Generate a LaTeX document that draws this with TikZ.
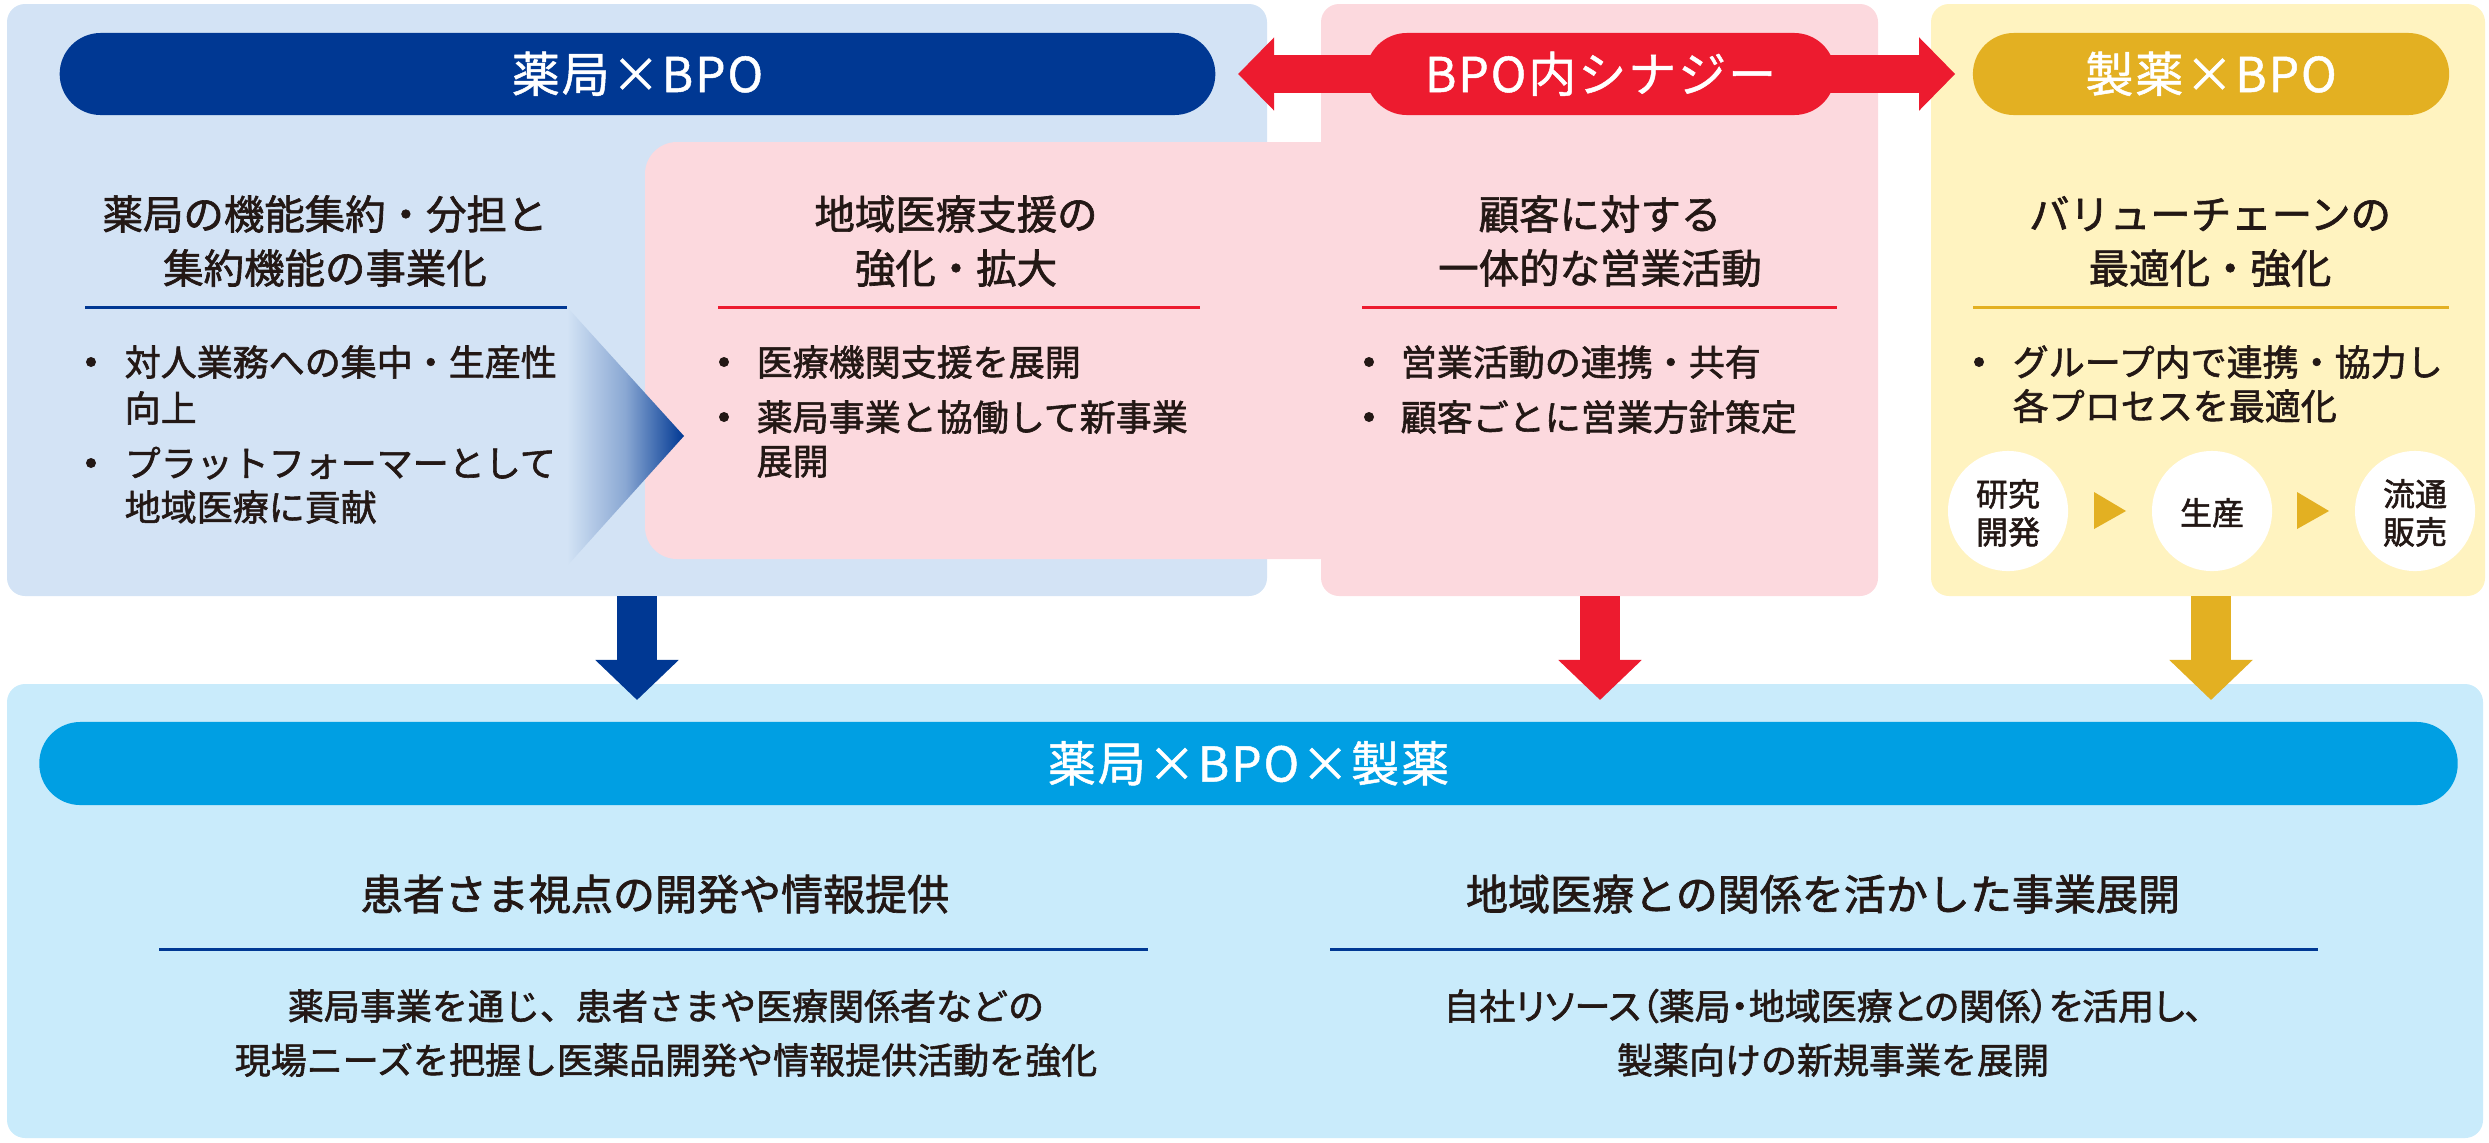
\documentclass[tikz,border=0pt]{standalone}
\usepackage{fontspec}
\setmainfont{Noto Sans CJK JP}[FakeBold=1.6]
\newfontfamily\pillfont{Noto Sans CJK JP}[LetterSpace=4, FakeBold=1.0]
\newfontfamily\paltfont{Noto Sans CJK JP}[RawFeature=+palt, FakeBold=1.6]
\usetikzlibrary{arrows.meta}
\definecolor{bluep}{HTML}{D3E3F5}
\definecolor{pinkp}{HTML}{FCD9DE}
\definecolor{yellowp}{HTML}{FFF3C0}
\definecolor{skyp}{HTML}{C9EBFB}
\definecolor{navyc}{HTML}{003893}
\definecolor{redc}{HTML}{ED1B2F}
\definecolor{goldc}{HTML}{E3B022}
\definecolor{cyanc}{HTML}{009FE3}
\definecolor{ink}{HTML}{231815}
\begin{document}
\begin{tikzpicture}[x=0.01cm,y=-0.01cm,
  panel/.style={rounded corners=0.18cm},
  pill/.style={rounded corners=0.41cm, minimum height=0.82cm, inner sep=0pt, text=white,
    font=\pillfont\fontsize{13.66}{15}\selectfont, text height=0.42cm, text depth=0.06cm},
  hd/.style={inner sep=0pt, text=ink, font=\fontsize{11.5}{13}\selectfont,
    text height=0.355cm, text depth=0.048cm},
  bd/.style={inner sep=0pt, text=ink, anchor=west, font=\fontsize{10.24}{12}\selectfont,
    text height=0.317cm, text depth=0.043cm},
  bhd/.style={inner sep=0pt, text=ink, font=\fontsize{11.95}{13}\selectfont,
    text height=0.37cm, text depth=0.05cm},
  bbd/.style={inner sep=0pt, text=ink, font=\fontsize{10.24}{12}\selectfont,
    text height=0.317cm, text depth=0.043cm},
  ct/.style={inner sep=0pt, text=ink, font=\fontsize{9.1}{10}\selectfont,
    text height=0.28cm, text depth=0.04cm},
  dot/.style={circle, fill=ink, inner sep=0pt, minimum size=0.1cm},
  uline/.style={line width=0.03cm},
  downarrow/.style={line width=0.4cm, -{Triangle[length=0.4cm,width=0.81cm]}},
  bubble/.style={circle, fill=white, minimum size=1.2cm, inner sep=0pt}
]
\useasboundingbox (0,0) rectangle (2489,1142);
% panels
\fill[bluep, panel] (7,4) rectangle (1267,596);
\fill[pinkp, panel] (1321,4) rectangle (1878,596);
\fill[pinkp, rounded corners=0.32cm] (1400,142) -- (645,142) -- (645,559) -- (1400,559) -- cycle;
\fill[yellowp, panel] (1931,4) rectangle (2485,596);
\fill[skyp, panel] (7,684) rectangle (2483,1138);
% chevron
\shade[left color=bluep, right color=navyc, middle color=navyc!35!bluep] (567,307) -- (684,436) -- (567,566) -- cycle;
% pills
\node[pill, fill=navyc, minimum width=11.55cm] (pA) at (637.5,74) {薬局×BPO};
\node[pill, fill=goldc, minimum width=4.76cm] (pC) at (2211,74) {製薬×BPO};
\draw[redc, line width=0.37cm, {Triangle[length=0.36cm,width=0.71cm]}-{Triangle[length=0.36cm,width=0.71cm]}]
  ([xshift=0.22cm]pA.east) -- ([xshift=-0.17cm]pC.west);
\node[pill, fill=redc, minimum width=4.69cm] (pB) at (1600.5,74) {BPO内シナジー};
\node[pill, fill=cyanc, minimum width=24.17cm, minimum height=0.83cm] (pD) at (1248.5,763.5) {薬局×BPO×製薬};
% down arrows
\coordinate (d1s) at (637,596); \coordinate (d1e) at (637,700);
\coordinate (d2s) at (1600,596); \coordinate (d2e) at (1600,700);
\coordinate (d3s) at (2211,596); \coordinate (d3e) at (2211,700);
\draw[downarrow, navyc] (d1s) -- (d1e);
\draw[downarrow, redc] (d2s) -- (d2e);
\draw[downarrow, goldc] (d3s) -- (d3e);
% column 1
\node[hd] (h1a) at (325,214) {薬局の機能集約・分担と};
\node[hd] (h1b) at (325,268) {集約機能の事業化};
\draw[uline, navyc] (85,307) -- (567,307);
\node[dot] (o1a) at (91,362) {};
\node[bd] (b1a) at (124,362) {対人業務への集中・生産性};
\node[bd] (b1b) at (124,408) {向上};
\node[dot] (o1c) at (91,463) {};
\node[bd] (b1c) at (124,463) {プラットフォーマーとして};
\node[bd] (b1d) at (124,507) {地域医療に貢献};
% column 2
\node[hd] (h2a) at (956,214) {地域医療支援の};
\node[hd] (h2b) at (956,268) {強化・拡大};
\draw[uline, redc] (718,307) -- (1200,307);
\node[dot] (o2a) at (724,362) {};
\node[bd] (b2a) at (756,362) {医療機関支援を展開};
\node[dot] (o2b) at (724,417) {};
\node[bd] (b2b) at (756,417) {薬局事業と協働して新事業};
\node[bd] (b2c) at (756,461) {展開};
% column 3
\node[hd] (h3a) at (1600,214) {顧客に対する};
\node[hd] (h3b) at (1600,268) {一体的な営業活動};
\draw[uline, redc] (1362,307) -- (1837,307);
\node[dot] (o3a) at (1369,362) {};
\node[bd] (b3a) at (1400,362) {営業活動の連携・共有};
\node[dot] (o3b) at (1369,417) {};
\node[bd] (b3b) at (1400,417) {顧客ごとに営業方針策定};
% column 4
\node[hd] (h4a) at (2210,214) {バリューチェーンの};
\node[hd] (h4b) at (2210,268) {最適化・強化};
\draw[uline, goldc] (1973,307) -- (2449,307);
\node[dot] (o4a) at (1979,362) {};
\node[bd] (b4a) at (2012,362) {グループ内で連携・協力し};
\node[bd] (b4b) at (2012,406) {各プロセスを最適化};
\node[bubble] (c1) at (2008,511) {};
\node[bubble] (c2) at (2212,511) {};
\node[bubble] (c3) at (2415,511) {};
\node[ct] (c1a) at (2008,494) {研究};
\node[ct] (c1b) at (2008,532) {開発};
\node[ct] (c2a) at (2212,513) {生産};
\node[ct] (c3a) at (2415,494) {流通};
\node[ct] (c3b) at (2415,532) {販売};
\fill[goldc] (2094,492) -- (2126,511) -- (2094,529) -- cycle;
\fill[goldc] (2297,492) -- (2329,511) -- (2297,529) -- cycle;
% bottom
\node[bhd] (bh1) at (655,894) {患者さま視点の開発や情報提供};
\draw[uline, navyc] (159,949) -- (1148,949);
\node[bbd] (bb1a) at (666,1006) {薬局事業を通じ、患者さまや医療関係者などの};
\node[bbd] (bb1b) at (666,1060) {現場ニーズを把握し医薬品開発や情報提供活動を強化};
\node[bhd] (bh2) at (1823,894) {地域医療との関係を活かした事業展開};
\draw[uline, navyc] (1330,949) -- (2318,949);
\node[bbd, font=\paltfont\fontsize{10.24}{12}\selectfont] (bb2a) at (1823,1006) {自社リソース（薬局・地域医療との関係）を活用し、};
\node[bbd] (bb2b) at (1833,1060) {製薬向けの新規事業を展開};
\end{tikzpicture}
\end{document}
